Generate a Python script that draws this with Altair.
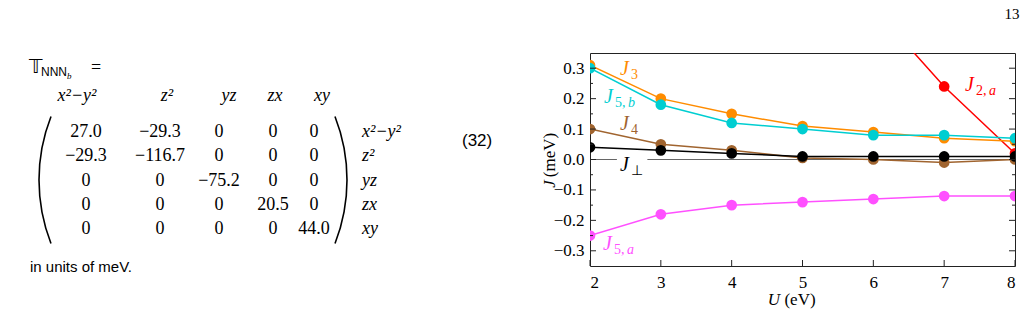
import altair as alt
import pandas as pd

# ---------------- data ----------------
U = [2, 3, 4, 5, 6, 7, 8]
J3 = [0.31, 0.20, 0.15, 0.11, 0.09, 0.07, 0.06]
J5b = [0.30, 0.18, 0.12, 0.10, 0.08, 0.08, 0.07]
J4 = [0.10, 0.05, 0.03, 0.005, 0.0, -0.01, 0.0]
Jperp = [0.04, 0.03, 0.02, 0.01, 0.01, 0.01, 0.01]
J5a = [-0.25, -0.18, -0.15, -0.14, -0.13, -0.12, -0.12]
U_J2a = [6, 7, 8]
J2a = [0.50, 0.24, 0.02]

x_ticks = [2, 3, 4, 5, 6, 7, 8]
y_ticks = [-0.3, -0.2, -0.1, 0.0, 0.1, 0.2, 0.3]
y_minor = [-0.25, -0.15, -0.05, 0.05, 0.15, 0.25]
zero_from = [2.0, 2.81]
zero_to = [2.38, 8.0]

mat_headers = ["x²−y²", "z²", "yz", "zx", "xy"]
mat_rows = ["x²−y²", "z²", "yz", "zx", "xy"]
mat_vals = [
    ["27.0", "−29.3", "0", "0", "0"],
    ["−29.3", "−116.7", "0", "0", "0"],
    ["0", "0", "−75.2", "0", "0"],
    ["0", "0", "0", "20.5", "0"],
    ["0", "0", "0", "0", "44.0"],
]

# ---------------- layout / style ----------------
PL, PT, W, H = 590, 53, 425, 213
SERIF = "Liberation Serif"
SANS = "Liberation Sans"
ONE = pd.DataFrame({"k": [0]})

xs = alt.Scale(domain=[2, 8], nice=False, zero=False)
ys = alt.Scale(domain=[-0.35, 0.35], nice=False, zero=False)
x_axis = alt.Axis(values=x_ticks, format="d", ticks=False, domain=False, grid=False,
                  labelFont=SERIF, labelFontSize=17, labelColor="black",
                  labelPadding=8, title=None)
y_axis = alt.Axis(values=y_ticks, format=".1f", ticks=False, domain=False, grid=False,
                  labelFont=SERIF, labelFontSize=17, labelColor="black",
                  labelPadding=6, title=None)


def X(f):
    return alt.X(f, scale=xs, axis=x_axis)


def Y(f):
    return alt.Y(f, scale=ys, axis=y_axis)


def txt(s, x, y, size=17, font=SERIF, style="normal", color="black", align="left",
        baseline="alphabetic", angle=None):
    kw = dict(text=s, font=font, fontSize=size, fontStyle=style, color=color,
              align=align, baseline=baseline)
    if angle is not None:
        kw["angle"] = angle
    return alt.Chart(ONE).mark_text(**kw).encode(x=alt.value(x - PL), y=alt.value(y - PT))


# ---------------- main plot ----------------
series = [
    (U_J2a, J2a, "#FF0000"),
    (U, J3, "#FF8C00"),
    (U, J5b, "#00CED1"),
    (U, J4, "#A0642F"),
    (U, Jperp, "#000000"),
    (U, J5a, "#FF50FF"),
]

zero_df = pd.DataFrame({"a": zero_from, "b": zero_to, "v": [0.0, 0.0]})
layers = [alt.Chart(zero_df).mark_rule(color="#666666", strokeWidth=1)
          .encode(x=X("a:Q"), x2="b:Q", y=Y("v:Q"))]
for u, j, c in series:
    df = pd.DataFrame({"U": u, "J": j})
    base = alt.Chart(df).encode(x=X("U:Q"), y=Y("J:Q"))
    layers.append(base.mark_line(color=c, strokeWidth=1.5, clip=True))
    layers.append(base.mark_circle(color=c, size=115, opacity=1, clip=True))

ymaj = pd.DataFrame({"v": y_ticks})
ymin = pd.DataFrame({"v": y_minor})
xmaj = pd.DataFrame({"v": x_ticks})
tk = dict(color="#222222", strokeWidth=1)
layers += [
    alt.Chart(ymaj).mark_rule(**tk).encode(y=Y("v:Q"), x=alt.value(0), x2=alt.value(6)),
    alt.Chart(ymaj).mark_rule(**tk).encode(y=Y("v:Q"), x=alt.value(W - 6), x2=alt.value(W)),
    alt.Chart(ymin).mark_rule(**tk).encode(y=Y("v:Q"), x=alt.value(0), x2=alt.value(3)),
    alt.Chart(ymin).mark_rule(**tk).encode(y=Y("v:Q"), x=alt.value(W - 3), x2=alt.value(W)),
    alt.Chart(xmaj).mark_rule(**tk).encode(x=X("v:Q"), y=alt.value(H - 6), y2=alt.value(H)),
]
main = alt.layer(*layers)

# series labels: J + subscript (upright part, italic part)
labels = [
    ("3", "", 620, 75, "#FF8C00"),
    ("5,", "b", 604, 103, "#00CED1"),
    ("4", "", 620, 130, "#A0642F"),
    ("⊥", "", 620, 171, "#000000"),
    ("5,", "a", 603, 250, "#FF50FF"),
    ("2,", "a", 965, 91, "#FF0000"),
]
lab_layers = []
for sub, sub_it, lx, ly, c in labels:
    lab_layers.append(txt("J", lx, ly, size=20, style="italic", color=c))
    lab_layers.append(txt(sub, lx + 11, ly + 4, size=14, color=c))
    if sub_it:
        lab_layers.append(txt(sub_it, lx + 24, ly + 4, size=14, style="italic", color=c))

# axis titles
titles = [
    txt("U", 774, 300, size=17, style="italic", align="center", baseline="middle"),
    txt("(eV)", 800, 300, size=17, align="center", baseline="middle"),
    txt("J", 550, 184, size=17, style="italic", align="center", baseline="middle", angle=270),
    txt("(meV)", 550, 155, size=17, align="center", baseline="middle", angle=270),
    txt("13", 1012, 19, size=15, align="center"),
]

# ---------------- matrix text ----------------
col_px = [86, 160, 219, 273, 314]
head_px = [77, 167, 229, 275, 322]
row_top, row_bot = 132, 229
cells = pd.DataFrame([{"r": i, "c": k, "t": v} for i, row in enumerate(mat_vals)
                      for k, v in enumerate(row)])
heads = pd.DataFrame({"c": list(range(5)), "t": mat_headers})
rlabs = pd.DataFrame({"r": list(range(5)), "t": mat_rows})
rowscale = alt.Scale(domain=[0, 4], range=[row_top - PT, row_bot - PT], nice=False, zero=False)

m_cells = alt.Chart(cells).mark_text(font=SERIF, fontSize=18, baseline="middle", align="center",
                                     color="black").encode(
    x=alt.X("c:Q", scale=alt.Scale(domain=[0, 1, 2, 3, 4], range=[p - PL for p in col_px],
                                   nice=False, zero=False), axis=None),
    y=alt.Y("r:Q", scale=rowscale, axis=None),
    text="t:N")
m_heads = alt.Chart(heads).mark_text(font=SERIF, fontSize=18, fontStyle="italic", baseline="middle",
                                     align="center", color="black").encode(
    x=alt.X("c:Q", scale=alt.Scale(domain=[0, 1, 2, 3, 4], range=[p - PL for p in head_px],
                                   nice=False, zero=False), axis=None),
    y=alt.value(96 - PT),
    text="t:N")
m_rlabs = alt.Chart(rlabs).mark_text(font=SERIF, fontSize=18, fontStyle="italic", baseline="middle",
                                     align="left", color="black").encode(
    x=alt.value(362 - PL),
    y=alt.Y("r:Q", scale=rowscale, axis=None),
    text="t:N")

# parentheses as thin circular arcs
R = 174
pcy = (116 + 244) / 2
parens = [
    alt.Chart(ONE).mark_arc(theta=4.339, theta2=5.086, radius=R, radius2=R, fillOpacity=0,
                            stroke="black", strokeWidth=1.6).encode(
        x=alt.value(39 + R - PL), y=alt.value(pcy - PT)),
    alt.Chart(ONE).mark_arc(theta=1.197, theta2=1.944, radius=R, radius2=R, fillOpacity=0,
                            stroke="black", strokeWidth=1.6).encode(
        x=alt.value(347 - R - PL), y=alt.value(pcy - PT)),
]

page_text = [
    txt("𝕋", 29, 73, size=19, font="DejaVu Sans"),
    txt("NNN", 41, 76, size=12, font=SANS),
    txt("b", 67, 79, size=9, font=SERIF, style="italic"),
    txt("=", 91, 73, size=18, font=SERIF),
    txt("(32)", 462, 146, size=17, font=SANS),
    txt("in units of meV.", 30, 272, size=15, font=SANS),
]

chart = alt.layer(
    main, m_cells, m_heads, m_rlabs, *parens, *lab_layers, *titles, *page_text
).resolve_scale(x="independent", y="independent").properties(
    width=W, height=H,
    padding={"left": PL, "top": PT, "right": 1028 - PL - W, "bottom": 314 - PT - H},
    autosize=alt.AutoSizeParams(type="none"),
    background="white",
).configure_view(stroke="#222222", strokeWidth=1)

chart.save("out.html", embed_options={"renderer": "svg", "actions": False})
